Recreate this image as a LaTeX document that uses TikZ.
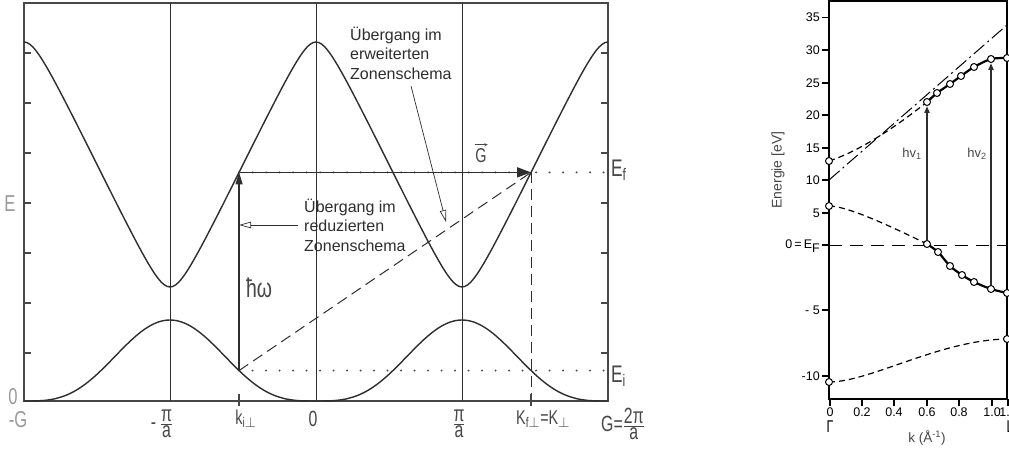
\documentclass[tikz,border=0pt]{standalone}
\usepackage{amsmath}
\usepackage{fontspec}
\setmainfont{Liberation Sans}
\newfontfamily\dinfont[FakeStretch=0.72]{Liberation Sans}
\usepackage{tikz}
\usetikzlibrary{arrows.meta,calc}
\definecolor{Ink}{HTML}{2E2E2E}
\definecolor{Graphite}{HTML}{474747}
\definecolor{Pencil}{HTML}{9A9A9A}
\tikzset{
    % linkes Bild: Bandschema
    frameline/.style={
        line width=1.3pt,
        draw=Graphite
    },
    zoneline/.style={
        line width=0.9pt,
        draw=Ink
    },
    bandline/.style={
        line width=1.4pt,
        draw=Ink
    },
    dotline/.style={
        line width=2.2pt,
        draw=Graphite,
        line cap=round,
        dash pattern=on 0pt off 13.5pt
    },
    dashline/.style={
        line width=1pt,
        draw=Ink,
        dash pattern=on 11pt off 6pt
    },
    vecarrow/.style={
        -{Triangle[length=14pt,width=10pt]},
        line width=1.6pt,
        draw=Ink
    },
    hbararrow/.style={
        -{Triangle[length=12pt,width=7pt]},
        line width=1.2pt,
        draw=Ink
    },
    notearrow/.style={
        -{Triangle[open,length=12pt,width=6.5pt]},
        line width=0.7pt,
        draw=Ink
    },
    accentarrow/.style={
        -{Stealth[length=3.5pt,width=3pt]},
        line width=0.7pt,
        draw=Graphite
    },
    dinlabel/.style={
        font=\dinfont\fontsize{22}{24}\selectfont,
        text=Graphite,
        inner sep=0pt
    },
    klabel/.style={
        dinlabel,
        font=\dinfont\fontsize{20}{22}\selectfont
    },
    pencillabel/.style={
        dinlabel,
        font=\dinfont\fontsize{23}{25}\selectfont,
        text=Pencil
    },
    notetext/.style={
        font=\fontsize{16}{19.5}\selectfont,
        align=left,
        text=Ink,
        inner sep=0pt
    },
    % rechtes Bild: Messung
    rframe/.style={
        line width=1.5pt,
        draw=black
    },
    curveline/.style={
        line width=2.2pt,
        draw=black
    },
    curvedash/.style={
        line width=1.2pt,
        draw=black,
        dash pattern=on 6pt off 4pt
    },
    fermidash/.style={
        line width=1pt,
        draw=black,
        dash pattern=on 13pt off 8pt
    },
    freeline/.style={
        line width=1pt,
        draw=black,
        dash pattern=on 14pt off 4pt on 2pt off 4pt
    },
    photon/.style={
        -{Triangle[length=7pt,width=5pt]},
        line width=2.4pt,
        draw=Ink
    },
    ptcircle/.style={
        circle,
        draw=black,
        fill=white,
        line width=1pt,
        inner sep=0pt,
        minimum size=7pt
    },
    numlabel/.style={
        font=\fontsize{12.5}{14}\selectfont,
        inner sep=0pt
    },
    pointlabel/.style={
        font=\dinfont\fontsize{17}{19}\selectfont,
        inner sep=0pt
    }
}
\newcommand{\dinfrac}[2]{$\genfrac{}{}{0.9pt}{1}{\mbox{#1}}{\mbox{#2}}$}

\begin{document}
\begin{tikzpicture}[x=1pt,y=-1pt]
    \useasboundingbox (0,0) rectangle (1009,449);
    \fill[white] (0,0) rectangle (1009,449);

    % Lage des Uebergangs
    \pgfmathsetmacro{\uki}{-0.527}
    \pgfmathsetmacro{\xki}{316+146*\uki}
    \pgfmathsetmacro{\xKf}{316+146*(\uki+2)}
    \pgfmathsetmacro{\yEf}{164.5-122.5*asin(0.95*cos(180*\uki))/71.805}
    \pgfmathsetmacro{\yEi}{401-81*((1-cos(180*\uki))/2)^1.6}

    % Rahmen und Zonengrenzen
    \draw[frameline] (24,3) rectangle (608,401);
    \foreach \x in {170,316,462}
        \draw[zoneline] (\x,3) -- (\x,401);
    \foreach \y in {53,103,...,353} {
        \draw[frameline] (24,\y) -- ++(7,0);
        \draw[frameline] (608,\y) -- ++(-7,0);
    }

    % Baender
    \draw[bandline] plot[domain=-2:2, samples=201, smooth]
        ({316+146*\x}, {164.5-122.5*asin(0.95*cos(180*\x))/71.805});
    \draw[bandline] plot[domain=-2:2, samples=201, smooth]
        ({316+146*\x}, {401-81*((1-cos(180*\x))/2+0.00001)^1.6});

    \coordinate (Ai) at (\xki,\yEi);
    \coordinate (Af) at (\xki,\yEf);
    \coordinate (Kf) at (\xKf,\yEf);
    \coordinate (kiAx) at (\xki,401);
    \coordinate (KfAx) at (\xKf,401);
    \coordinate (EfEnd) at (608,\yEf);
    \coordinate (EiEnd) at (608,\yEi);

    \draw[dotline] (Af) -- (EfEnd);
    \draw[dotline] (Ai) -- (EiEnd);
    \draw[dashline] (Ai) -- (Kf);
    \draw[dashline] (Kf) -- (KfAx);
    \draw[frameline] ($(kiAx)+(0,-7)$) -- ($(kiAx)+(0,5)$);
    \draw[frameline] ($(KfAx)+(0,-7)$) -- ($(KfAx)+(0,5)$);
    \draw[hbararrow] (Ai) -- (Af);
    \draw[vecarrow] (Af) -- (Kf);

    \node[klabel] (Gvec) at (481,156) {G};
    \draw[accentarrow] ([xshift=-0.5pt,yshift=4pt]Gvec.north west) -- ([xshift=1pt,yshift=4pt]Gvec.north east);
    \node[dinlabel, font=\dinfont\fontsize{27}{29}\selectfont] (hw) at (259,288) {ħω};

    % Beschriftung
    \node[notetext, anchor=west] (erw) at (350,53) {Übergang im\\erweiterten\\Zonenschema};
    \node[notetext, anchor=west] (red) at (304,225) {Übergang im\\reduzierten\\Zonenschema};
    \coordinate (erwFoot) at (411,86);
    \coordinate (erwTip) at (446,222);
    \coordinate (redFoot) at (298,225);
    \coordinate (redTip) at (\xki,225);
    \draw[notearrow] (erwFoot) -- (erwTip);
    \draw[notearrow] (redFoot) -- (redTip);

    \node[pencillabel] (Elab) at (10,204) {E};
    \node[pencillabel] (zeroE) at (13,397) {0};
    \node[pencillabel] (mG) at (18,420) {-G};
    \node[dinlabel] (mpia) at (162,424) {-\,\dinfrac{π}{a}};
    \node[klabel] (kilab) at (246,419) {k\textsubscript{i$\perp$}};
    \node[dinlabel] (zerok) at (313,419) {0};
    \node[dinlabel] (pia) at (459,424) {\dinfrac{π}{a}};
    \node[klabel, anchor=west] (Kflab) at (516,419) {K\textsubscript{f$\perp$}=K\textsubscript{$\perp$}};
    \node[dinlabel, anchor=west] (Glab) at (601,424) {G=\dinfrac{2π}{a}};
    \node[dinlabel, font=\dinfont\fontsize{24}{26}\selectfont, anchor=west] (Eflab) at (611,170) {E\textsubscript{f}};
    \node[dinlabel, font=\dinfont\fontsize{24}{26}\selectfont, anchor=west] (Eilab) at (611,376) {E\textsubscript{i}};

    % rechtes Bild
    \draw[rframe] (829,1) rectangle (1007,399);
    \foreach \y/\lab in {17.5/35, 50/30, 83/25, 115/20, 148/15, 180/10, 213/5, 310/- 5, 376/-10} {
        \draw[rframe] (822,\y) -- (829,\y);
        \node[numlabel, anchor=east] at (820,\y) {\lab};
    }
    \draw[rframe] (822,245) -- (829,245);
    \node[numlabel, anchor=east] (EFlab) at (820,246) {0\,=\,E\raisebox{-4pt}{F}};
    \foreach \x/\lab in {830/0, 862/0.2, 894/0.4, 927/0.6, 959/0.8, 992/1.0, 1008/1.1} {
        \draw[rframe] (\x,399) -- (\x,406);
        \node[numlabel, anchor=north] at (\x,408) {\lab};
    }
    \node[pointlabel] (Gam) at (830,427) {Γ};
    \node[pointlabel] (Lpt) at (1010,427) {L};
    \node[numlabel, text=Graphite, font=\fontsize{13.5}{15}\selectfont] (klab) at (927,438) {k (Å\textsuperscript{-1})};
    \node[rotate=90, text=Graphite, font=\fontsize{14}{16}\selectfont] (Elab2) at (778,170) {Energie [eV]};

    \draw[fermidash] (829,245) -- (1007,245);
    \draw[freeline] (829,180) -- (1007,25);
    \draw[curvedash] (829,161) .. controls (860,151) and (897,126) .. (927,102);
    \draw[curvedash] (829,206) .. controls (845,206) and (880,221) .. (927,244);
    \draw[curvedash] (829,382) .. controls (870,382) and (940,340) .. (1007,339);
    \draw[curveline] plot[smooth] coordinates {(927,102) (937,93) (950,84) (961,76) (974,67) (991,59) (1007,58)};
    \draw[curveline] plot[smooth] coordinates {(927,244) (938,252) (950,266) (962,275) (974,282) (991,289) (1007,293)};

    \foreach \n/\x/\y in {u1/927/102, u2/937/93, u3/950/84, u4/961/76, u5/974/67, u6/991/59, u7/1007/58,
                          l1/927/244, l2/938/252, l3/950/266, l4/962/275, l5/974/282, l6/991/289, l7/1007/293,
                          g1/829/161, g2/829/206, g3/829/382, lb/1007/339}
        \node[ptcircle] (\n) at (\x,\y) {};

    \draw[photon] (l1) -- (u1);
    \draw[photon] (l6) -- (u6);
    \node[numlabel, text=Graphite, font=\fontsize{13}{15}\selectfont] (hv1) at (912,154) {hv\textsubscript{1}};
    \node[numlabel, text=Graphite, font=\fontsize{13}{15}\selectfont] (hv2) at (977,154) {hv\textsubscript{2}};
\end{tikzpicture}
\end{document}
